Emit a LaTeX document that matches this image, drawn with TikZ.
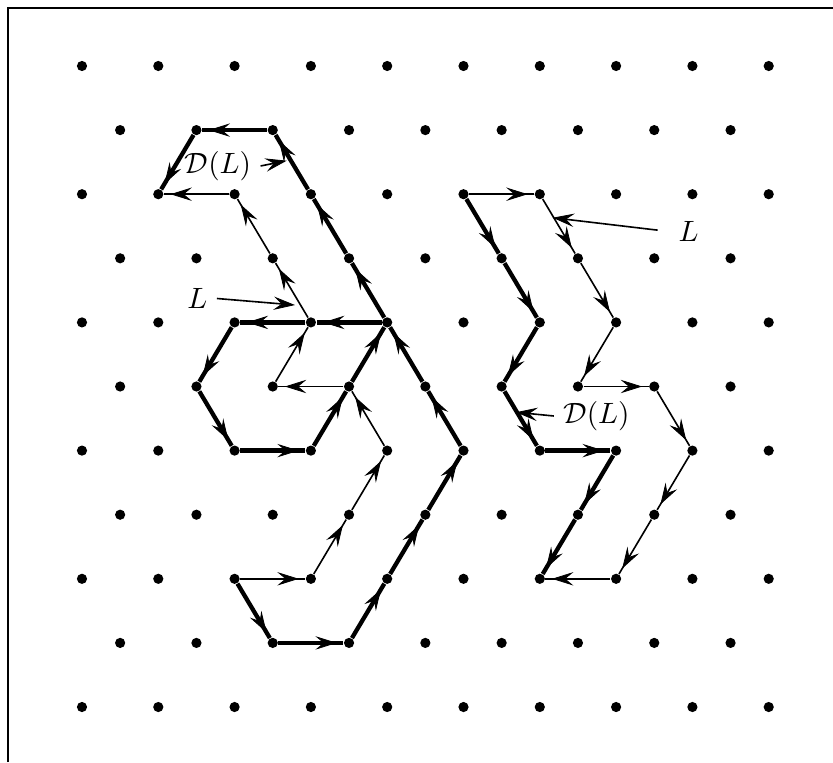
\documentclass[tikz,border=0pt]{standalone}
\usepackage{tikz}
\usetikzlibrary{positioning, arrows.meta, decorations.markings, calc}

\begin{document}
\begin{tikzpicture}[
        x=0.5cm, y=-0.8401cm,
        gitterpunkt/.style={circle, fill=black, inner sep=0pt, minimum size=3.8pt},
        spitze/.style={postaction={decorate}, decoration={markings, mark=at position 0.9 with {\arrow{Stealth[length=8pt, width=5pt, inset=3pt, line width=0.3pt]}}}},
        schleife/.style={spitze, line width=0.6pt},
        dickschleife/.style={spitze, line width=1.6pt},
        zeiger/.style={line width=0.6pt, -{Stealth[length=8pt, width=5pt, inset=3pt, line width=0.3pt]}},
        beschriftung/.style={font=\fontsize{10.5}{12}\selectfont}
    ]

    % Rahmen
    \useasboundingbox (-2.149,-1.0296) rectangle (19.685,10.858);
    \draw[line width=1pt] (-1.94,10.858) |- (19.685,-0.905);

    % Gitter
    \foreach \r in {0,2,...,10}
        \foreach \i in {0,2,...,18}
            \node[gitterpunkt] (v\r-\i) at (\i,\r) {};
    \foreach \r in {1,3,...,9}
        \foreach \i in {1,3,...,17}
            \node[gitterpunkt] (v\r-\i) at (\i,\r) {};

    % Pfad L und D(L), links
    \foreach \b [remember=\b as \a (initially v8-4)] in {v8-6, v7-7, v6-8, v5-7, v5-5, v4-6, v3-5, v2-4, v2-2}
        \draw[schleife] (\a) -- (\b);
    \foreach \b [remember=\b as \a (initially v8-4)] in {v9-5, v9-7, v8-8, v7-9, v6-10, v5-9, v4-8, v4-6, v4-4, v5-3, v6-4, v6-6, v5-7, v4-8, v3-7, v2-6, v1-5, v1-3, v2-2}
        \draw[dickschleife] (\a) -- (\b);

    % Pfad L und D(L), rechts
    \foreach \b [remember=\b as \a (initially v2-10)] in {v2-12, v3-13, v4-14, v5-13, v5-15, v6-16, v7-15, v8-14, v8-12}
        \draw[schleife] (\a) -- (\b);
    \foreach \b [remember=\b as \a (initially v2-10)] in {v3-11, v4-12, v5-11, v6-12, v6-14, v7-13, v8-12}
        \draw[dickschleife] (\a) -- (\b);

    % Beschriftungen
    \node[beschriftung] (dl1) at (3.565,1.560) {$\mathcal{D}(L)$};
    \coordinate (dl1spitze) at (5.366,1.477);
    \draw[zeiger] (dl1.east) -- (dl1spitze);

    \node[beschriftung] (l1) at (3.027,3.627) {$L$};
    \coordinate (l1spitze) at (5.583,3.729);
    \draw[zeiger] (l1.east) -- (l1spitze);

    \node[beschriftung] (l2) at (15.898,2.582) {$L$};
    \coordinate (l2spitze) at (12.338,2.367);
    \draw[zeiger, shorten <=1.5mm] (l2.west) -- (l2spitze);

    \node[beschriftung] (dl2) at (13.486,5.460) {$\mathcal{D}(L)$};
    \coordinate (dl2spitze) at (11.376,5.402);
    \draw[zeiger] (dl2.west) -- (dl2spitze);

\end{tikzpicture}
\end{document}
